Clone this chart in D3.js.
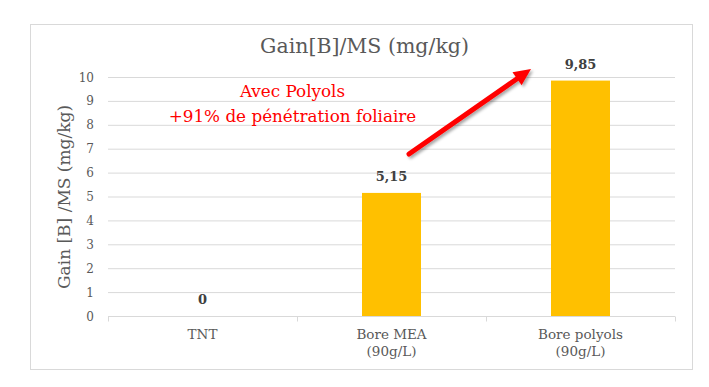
<!DOCTYPE html>
<html><head><meta charset="utf-8">
<script src="https://cdn.jsdelivr.net/npm/d3@7"></script>
<style>body{margin:0;background:#fff}svg{display:block}text{font-family:"DejaVu Serif",serif}</style>
</head><body><svg id="c" width="709" height="387"></svg>
<script>
const categories = [["TNT"], ["Bore MEA", "(90g/L)"], ["Bore polyols", "(90g/L)"]];
const values = [0, 5.15, 9.85];
const valueLabels = ["0", "5,15", "9,85"];
const yTicks = [0,1,2,3,4,5,6,7,8,9,10];
const title = "Gain[B]/MS (mg/kg)";
const yTitle = "Gain [B] /MS (mg/kg)";
const annot = ["Avec Polyols", "+91% de pénétration foliaire"];

const svg = d3.select("#c");
svg.append("rect").attr("x",30.5).attr("y",24.5).attr("width",662).attr("height",345)
  .attr("fill","#fff").attr("stroke","#d9d9d9");

const x = d3.scaleBand().domain(d3.range(categories.length)).range([108,675]).paddingInner(0).paddingOuter(0);
const y = d3.scaleLinear().domain([0,10]).range([316,77]);

svg.append("g").selectAll("line").data(yTicks.filter(d=>d>0)).join("line")
  .attr("x1",108).attr("x2",675).attr("y1",d=>y(d)+0.5).attr("y2",d=>y(d)+0.5)
  .attr("stroke","#d9d9d9");
const xa = svg.append("g").attr("transform",`translate(0,${y(0)+0.5})`);
xa.append("line").attr("x1",108).attr("x2",675).attr("stroke","#d9d9d9");
xa.selectAll("line.t").data(d3.range(categories.length+1)).join("line").attr("class","t")
  .attr("x1",d=>Math.round(108+d*x.bandwidth())+0.5).attr("x2",d=>Math.round(108+d*x.bandwidth())+0.5)
  .attr("y1",0).attr("y2",5).attr("stroke","#d9d9d9");

svg.append("g").selectAll("text").data(yTicks).join("text")
  .attr("x",94).attr("y",d=>y(d)+4.5).attr("text-anchor","end")
  .attr("font-size",12).attr("fill","#595959").text(d=>d);

categories.forEach((c,i)=>{
  c.forEach((l,j)=>{
    svg.append("text").attr("x",x(i)+x.bandwidth()/2).attr("y",339+j*17)
      .attr("text-anchor","middle").attr("font-size",13.5).attr("fill","#595959").text(l);
  });
});

const bw = 59;
svg.append("g").selectAll("rect").data(values).join("rect")
  .attr("x",(d,i)=>x(i)+x.bandwidth()/2-bw/2).attr("width",bw)
  .attr("y",d=>y(d)).attr("height",d=>y(0)-y(d)).attr("fill","#FFC000");

svg.append("g").selectAll("text").data(values).join("text")
  .attr("x",(d,i)=>x(i)+x.bandwidth()/2).attr("y",d=>y(d)-12)
  .attr("text-anchor","middle").attr("font-size",13).attr("font-weight","bold").attr("fill","#404040")
  .text((d,i)=>valueLabels[i]);

svg.append("text").attr("x",364.5).attr("y",53).attr("text-anchor","middle")
  .attr("font-size",20.5).attr("fill","#595959").text(title);

svg.append("text").attr("transform","translate(70,197) rotate(-90)").attr("text-anchor","middle")
  .attr("font-size",17).attr("fill","#595959").text(yTitle);

annot.forEach((t,i)=>{
  svg.append("text").attr("x",292.5).attr("y",97+i*25).attr("text-anchor","middle")
    .attr("font-size",16.8).attr("fill","#ff0000").text(t);
});

const defs = svg.append("defs");
const f = defs.append("filter").attr("id","sh").attr("x","-20%").attr("y","-20%").attr("width","140%").attr("height","140%");
f.append("feDropShadow").attr("dx",2).attr("dy",2).attr("stdDeviation",1.5).attr("flood-color","#000").attr("flood-opacity",0.35);
const x0=409,y0=154,x1=531,y1=69;
const ang=Math.atan2(y1-y0,x1-x0), hl=17, hw=8;
const bx=x1-hl*Math.cos(ang), by=y1-hl*Math.sin(ang);
const g = svg.append("g").attr("filter","url(#sh)");
g.append("line").attr("x1",x0).attr("y1",y0).attr("x2",bx).attr("y2",by)
  .attr("stroke","#ff0000").attr("stroke-width",5).attr("stroke-linecap","round");
g.append("path").attr("d",`M${x1},${y1}L${bx+hw*Math.sin(ang)},${by-hw*Math.cos(ang)}L${bx-hw*Math.sin(ang)},${by+hw*Math.cos(ang)}Z`)
  .attr("fill","#ff0000");
</script></body></html>
